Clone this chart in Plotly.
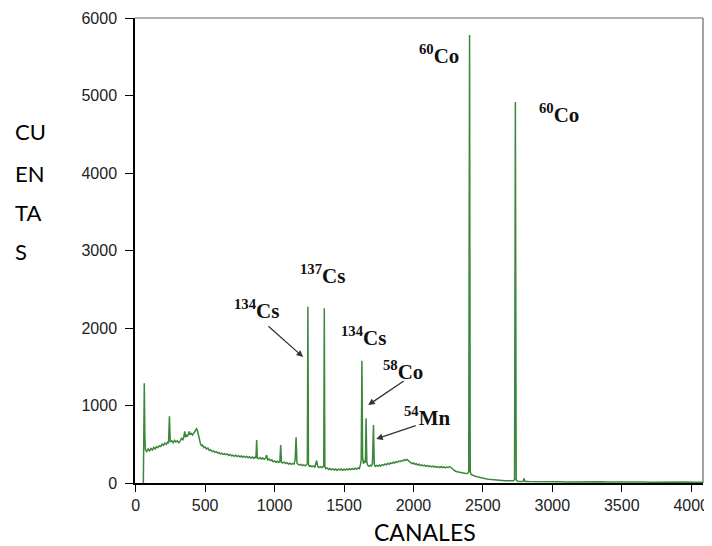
import plotly.graph_objects as go

# Gamma spectrum (channel, counts)
channels = [55, 58, 62, 66, 70, 80, 90, 100, 110, 120, 130, 140, 150, 160, 170, 180, 190, 200, 210, 220, 230, 236, 243, 249,
            260, 270, 280, 290, 300, 310, 320, 330, 340, 347, 353, 359, 366, 372, 378, 385, 391, 400, 410, 420, 430, 438, 444,
            450, 458, 466, 474, 482, 490, 500, 510, 520, 530, 540, 550, 560, 570, 580, 590, 600, 610, 620, 630, 640, 650, 660,
            670, 680, 690, 700, 710, 720, 730, 740, 750, 760, 770, 780, 790, 800, 810, 820, 830, 840, 850, 860, 866, 871, 876,
            885, 895, 905, 915, 925, 935, 943, 950, 960, 970, 980, 990, 1000, 1010, 1020, 1030, 1038, 1044, 1050, 1060, 1070,
            1080, 1090, 1100, 1110, 1120, 1130, 1140, 1148, 1155, 1161, 1170, 1180, 1190, 1200, 1210, 1220, 1230, 1236, 1240,
            1244, 1250, 1260, 1270, 1280, 1290, 1296, 1303, 1310, 1320, 1330, 1340, 1350, 1354, 1358, 1362, 1370, 1380, 1390,
            1400, 1410, 1420, 1430, 1440, 1450, 1460, 1470, 1480, 1490, 1500, 1510, 1520, 1530, 1540, 1550, 1560, 1570, 1580,
            1590, 1600, 1610, 1618, 1624, 1629, 1634, 1640, 1648, 1654, 1659, 1664, 1670, 1680, 1690, 1698, 1705, 1712, 1718,
            1725, 1735, 1745, 1755, 1765, 1775, 1785, 1795, 1805, 1815, 1825, 1835, 1845, 1855, 1865, 1875, 1885, 1895, 1905,
            1915, 1925, 1935, 1945, 1955, 1962, 1970, 1980, 1990, 2000, 2010, 2020, 2030, 2040, 2050, 2060, 2070, 2080, 2090,
            2100, 2110, 2120, 2130, 2140, 2150, 2160, 2170, 2180, 2190, 2200, 2210, 2220, 2230, 2240, 2250, 2260, 2270, 2280,
            2290, 2300, 2315, 2330, 2345, 2360, 2375, 2390, 2398, 2404, 2409, 2415, 2430, 2445, 2460, 2480, 2500, 2520, 2540,
            2560, 2580, 2600, 2620, 2640, 2660, 2680, 2700, 2720, 2728, 2734, 2740, 2750, 2770, 2790, 2797, 2803, 2830, 2870,
            2910, 2950, 3000, 3050, 3100, 3150, 3200, 3250, 3300, 3350, 3400, 3450, 3500, 3550, 3600, 3650, 3700, 3750, 3800,
            3850, 3900, 3950, 4000, 4050, 4085]
counts = [0, 1280, 1286, 600, 430, 405, 440, 415, 445, 425, 460, 440, 470, 455, 480, 470, 500, 485, 515, 500, 530, 510, 860, 530,
          545, 520, 550, 530, 545, 520, 540, 575, 560, 600, 665, 590, 615, 600, 630, 665, 620, 640, 620, 655, 670, 700, 680,
          630, 560, 510, 480, 490, 455, 465, 440, 450, 420, 430, 405, 415, 395, 405, 385, 395, 375, 385, 370, 380, 365, 375,
          355, 368, 350, 360, 345, 358, 340, 352, 338, 348, 332, 345, 330, 342, 325, 338, 322, 335, 320, 332, 325, 555, 320,
          315, 328, 310, 322, 305, 318, 360, 300, 310, 290, 300, 275, 285, 268, 280, 265, 275, 490, 265, 258, 270,
          250, 262, 245, 255, 240, 252, 245, 300, 590, 260, 240, 232, 240, 225, 235, 222, 235, 250, 2275,
          240, 215, 225, 210, 220, 205, 240, 290, 215, 200, 212, 198, 210, 230, 2254, 210, 185, 195, 175,
          188, 170, 182, 168, 180, 165, 178, 168, 180, 165, 178, 168, 182, 170, 185, 172, 186, 175, 190,
          178, 195, 185, 230, 300, 1578, 320, 250, 290, 260, 835, 280, 230, 215, 230, 215, 260, 748, 240,
          215, 228, 215, 232, 220, 238, 228, 245, 235, 252, 242, 260, 250, 268, 258, 275, 268, 282, 275,
          290, 285, 300, 292, 305, 290, 270, 262, 250, 258, 240, 250, 232, 242, 225, 235, 220, 230, 215,
          226, 212, 222, 208, 218, 205, 215, 202, 212, 200, 210, 198, 208, 196, 205, 200, 212, 200, 185,
          165, 155, 145, 138, 132, 128, 122, 125, 140, 5780, 150, 110, 95, 88, 80, 70, 62, 55, 50,
          45, 42, 38, 35, 32, 30, 28, 26, 28, 45, 4916, 40, 22, 20, 22, 60, 20, 18, 19,
          16, 18, 15, 17, 14, 16, 13, 15, 13, 15, 12, 14, 12, 14, 11, 13, 11, 13, 11,
          12, 10, 12, 10, 11, 10]

x_ticks = [0, 500, 1000, 1500, 2000, 2500, 3000, 3500, 4000]
y_ticks = [0, 1000, 2000, 3000, 4000, 5000, 6000]

# Peak labels: (text, channel, counts)
label_texts = ["<sup>60</sup>Co", "<sup>60</sup>Co", "<sup>137</sup>Cs", "<sup>134</sup>Cs", "<sup>134</sup>Cs",
               "<sup>58</sup>Co", "<sup>54</sup>Mn"]
label_x = [2186, 3045, 1342, 873, 1638, 1926, 2100]
label_y = [5523, 4774, 2684, 2245, 1884, 1458, 852]

# Arrows: tail (channel, counts) -> head (channel, counts)
arrow_tail_x = [945, 1941, 2027]
arrow_tail_y = [2039, 1329, 748]
arrow_head_x = [1205, 1674, 1732]
arrow_head_y = [1626, 1006, 568]

ylabel_parts = ["CU", "EN", "TA", "S"]
xlabel = "CANALES"

# the page body has an 8px margin, so the figure is drawn 8px in from the window corner
OFF = 8
W, H = 712 - OFF, 546 - OFF
ML, MR, MT, MB = 135 - OFF, 9, 18 - OFF, 63
PW, PH = W - ML - MR, H - MT - MB


def px_to_paper(px, py):
    # px, py are window pixel positions
    return (px - OFF - ML) / PW, (H - MB - (py - OFF)) / PH


fig = go.Figure()
fig.add_trace(go.Scatter(x=channels, y=counts, mode="lines",
                         line=dict(color="#3b873b", width=1.5), showlegend=False, hoverinfo="skip"))

annotations = []
for t, x, y in zip(label_texts, label_x, label_y):
    annotations.append(dict(x=x, y=y, xref="x", yref="y", text=t, showarrow=False,
                            font=dict(family="Liberation Serif", size=21, color="#111", weight="bold")))
for tx, ty, hx, hy in zip(arrow_tail_x, arrow_tail_y, arrow_head_x, arrow_head_y):
    annotations.append(dict(x=hx, y=hy, ax=tx, ay=ty, xref="x", yref="y", axref="x", ayref="y",
                            text="", showarrow=True, arrowhead=2, arrowsize=1, arrowwidth=1.3,
                            arrowcolor="#333", standoff=0, startstandoff=0))

for part, py in zip(ylabel_parts, [132, 173, 212, 251]):
    ax_, ay_ = px_to_paper(13, py)
    annotations.append(dict(x=ax_, y=ay_, xref="paper", yref="paper", text=part, showarrow=False,
                            xanchor="left", yanchor="middle",
                            font=dict(family="Lato", size=22, color="#000")))
cx, cy = px_to_paper(425, 532)
annotations.append(dict(x=cx, y=cy, xref="paper", yref="paper", text=xlabel, showarrow=False,
                        xanchor="center", yanchor="middle",
                        font=dict(family="Lato", size=23, color="#000")))

fig.update_layout(
    width=W, height=H,
    margin=dict(l=ML, r=MR, t=MT, b=MB, autoexpand=False),
    paper_bgcolor="white", plot_bgcolor="white",
    annotations=annotations,
    xaxis=dict(range=[-5, 4085], tickvals=x_ticks, ticks="outside", ticklen=7, tickcolor="#000",
               showgrid=False, zeroline=False, showline=True, linecolor="#000", linewidth=1.5,
               automargin=False, ticklabelstandoff=0,
               tickfont=dict(family="Liberation Sans", size=16, color="#222")),
    yaxis=dict(range=[0, 6000], tickvals=y_ticks, ticks="outside", ticklen=8, tickcolor="#000",
               showgrid=False, zeroline=False, showline=True, linecolor="#000", linewidth=1.5,
               automargin=False, ticklabelstandoff=5,
               tickfont=dict(family="Liberation Sans", size=16, color="#222")),
    shapes=[
        dict(type="line", xref="paper", yref="paper", x0=0, x1=1, y0=1, y1=1, line=dict(color="#666", width=1.2)),
        dict(type="line", xref="paper", yref="paper", x0=1, x1=1, y0=0, y1=1, line=dict(color="#666", width=1.2)),
    ],
)

fig.write_html("out.html")
